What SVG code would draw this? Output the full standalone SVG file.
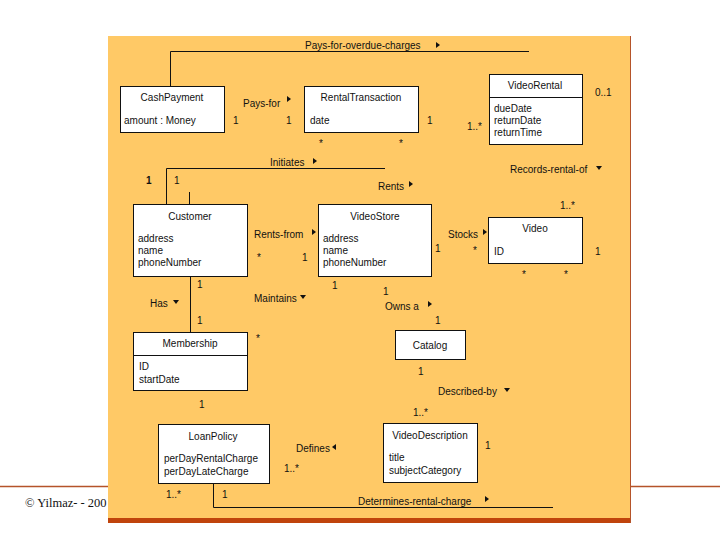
<svg xmlns="http://www.w3.org/2000/svg" width="720" height="540" viewBox="0 0 720 540">
<style>
text{font-family:"Liberation Sans",Arial,sans-serif;font-size:10px;fill:#111}
.c{text-anchor:middle}
.box{fill:#fff;stroke:#111;stroke-width:1}
.ln{stroke:#111;stroke-width:1;fill:none}
.tri{fill:#111}
.foot{font-family:"Liberation Serif","Times New Roman",serif;font-size:12.5px}
</style>
<rect width="720" height="540" fill="#fff"/>
<line x1="0" y1="486.5" x2="720" y2="486.5" stroke="#B5532A" stroke-width="1.5"/>
<text class="foot" x="25" y="507">© Yilmaz- - 200</text>
<rect x="108" y="36" width="523" height="483" fill="#FFC966"/>
<rect x="108" y="518" width="523" height="5" fill="#C0440C"/>
<line x1="630.5" y1="36" x2="630.5" y2="523" stroke="#B5532A" stroke-width="1"/>

<g id="connectors">
<polyline class="ln" points="170.5,86 170.5,51.5 529,51.5"/>
<polyline class="ln" points="166.5,204 166.5,168.5 385,168.5"/>
<line class="ln" x1="189.5" y1="192" x2="189.5" y2="204"/>
<line class="ln" x1="190.5" y1="276" x2="190.5" y2="332"/>
<polyline class="ln" points="213.5,483 213.5,507.5 553,507.5"/>
</g>

<g id="labels">
<text x="305" y="49">Pays-for-overdue-charges</text><polygon class="tri" points="436,42 440,45 436,48"/>
<text x="243" y="107">Pays-for</text><polygon class="tri" points="287,96 291,99 287,102"/>
<text x="233" y="124">1</text><text x="286" y="124">1</text><text x="427" y="124">1</text>
<text x="319" y="147">*</text><text x="399" y="147">*</text>
<text x="467" y="130">1..*</text><text x="595" y="96">0..1</text>
<text x="510" y="173">Records-rental-of</text><polygon class="tri" points="596,166 602,166 599,170"/>
<text x="378" y="190">Rents</text><polygon class="tri" points="409,181 413,184 409,187"/>
<text x="270" y="166">Initiates</text><polygon class="tri" points="313,158 317,161 313,164"/>
<text x="146" y="184" font-weight="bold">1</text><text x="174" y="184">1</text>
<text x="254" y="238">Rents-from</text><polygon class="tri" points="312,229 316,232 312,235"/>
<text x="257" y="261">*</text><text x="302" y="261">1</text>
<text x="448" y="238">Stocks</text><polygon class="tri" points="483,229 487,232 483,235"/>
<text x="435" y="252">1</text><text x="473" y="254">*</text>
<text x="560" y="209">1..*</text><text x="595" y="255">1</text>
<text x="522" y="278">*</text><text x="564" y="278">*</text>
<text x="197" y="288">1</text><text x="197" y="324">1</text>
<text x="150" y="307">Has</text><polygon class="tri" points="173,300 179,300 176,304"/>
<text x="254" y="302">Maintains</text><polygon class="tri" points="300,295 306,295 303,299"/>
<text x="332" y="289">1</text><text x="256" y="342">*</text>
<text x="383" y="295">1</text>
<text x="385" y="310">Owns a</text><polygon class="tri" points="428,301 432,304 428,307"/>
<text x="435" y="324">1</text>
<text x="418" y="375">1</text>
<text x="438" y="395">Described-by</text><polygon class="tri" points="504,388 510,388 507,392"/>
<text x="413" y="416">1..*</text>
<text x="485" y="449">1</text>
<text x="199" y="408">1</text>
<text x="296" y="452">Defines</text><polygon class="tri" points="336,444 332,447 336,450"/>
<text x="284" y="472">1..*</text>
<text x="166" y="498">1..*</text><text x="222" y="498">1</text>
<text x="358" y="505">Determines-rental-charge</text><polygon class="tri" points="485,496 489,499 485,502"/>
</g>

<g id="CashPayment">
<rect class="box" x="120.5" y="86.5" width="104" height="46"/>
<text class="c" x="172" y="101">CashPayment</text>
<text x="124" y="124">amount : Money</text>
</g>
<g id="RentalTransaction">
<rect class="box" x="304.5" y="86.5" width="114" height="46"/>
<text class="c" x="361" y="101">RentalTransaction</text>
<text x="310" y="124">date</text>
</g>
<g id="VideoRental">
<rect class="box" x="489.5" y="74.5" width="93" height="70"/>
<line class="ln" x1="489.5" y1="97.5" x2="582.5" y2="97.5"/>
<text class="c" x="535" y="89">VideoRental</text>
<text x="494" y="112">dueDate</text>
<text x="494" y="124">returnDate</text>
<text x="494" y="136">returnTime</text>
</g>
<g id="Customer">
<rect class="box" x="133.5" y="204.5" width="114" height="72"/>
<text class="c" x="190" y="220">Customer</text>
<text x="138" y="242">address</text>
<text x="138" y="254">name</text>
<text x="138" y="266">phoneNumber</text>
</g>
<g id="VideoStore">
<rect class="box" x="318.5" y="204.5" width="113" height="72"/>
<text class="c" x="375" y="220">VideoStore</text>
<text x="323" y="242">address</text>
<text x="323" y="254">name</text>
<text x="323" y="266">phoneNumber</text>
</g>
<g id="Video">
<rect class="box" x="488.5" y="217.5" width="94" height="46"/>
<text class="c" x="535" y="232">Video</text>
<text x="494" y="255">ID</text>
</g>
<g id="Membership">
<rect class="box" x="133.5" y="332.5" width="114" height="58"/>
<line class="ln" x1="133.5" y1="355.5" x2="247.5" y2="355.5"/>
<text class="c" x="190" y="347">Membership</text>
<text x="139" y="370">ID</text>
<text x="139" y="383">startDate</text>
</g>
<g id="Catalog">
<rect class="box" x="395.5" y="330.5" width="70" height="29"/>
<text class="c" x="430" y="349">Catalog</text>
</g>
<g id="LoanPolicy">
<rect class="box" x="158.5" y="424.5" width="111" height="59"/>
<text class="c" x="213" y="440">LoanPolicy</text>
<text x="164" y="462">perDayRentalCharge</text>
<text x="164" y="475">perDayLateCharge</text>
</g>
<g id="VideoDescription">
<rect class="box" x="383.5" y="423.5" width="94" height="59"/>
<text class="c" x="430" y="439">VideoDescription</text>
<text x="389" y="461">title</text>
<text x="389" y="474">subjectCategory</text>
</g>
</svg>
